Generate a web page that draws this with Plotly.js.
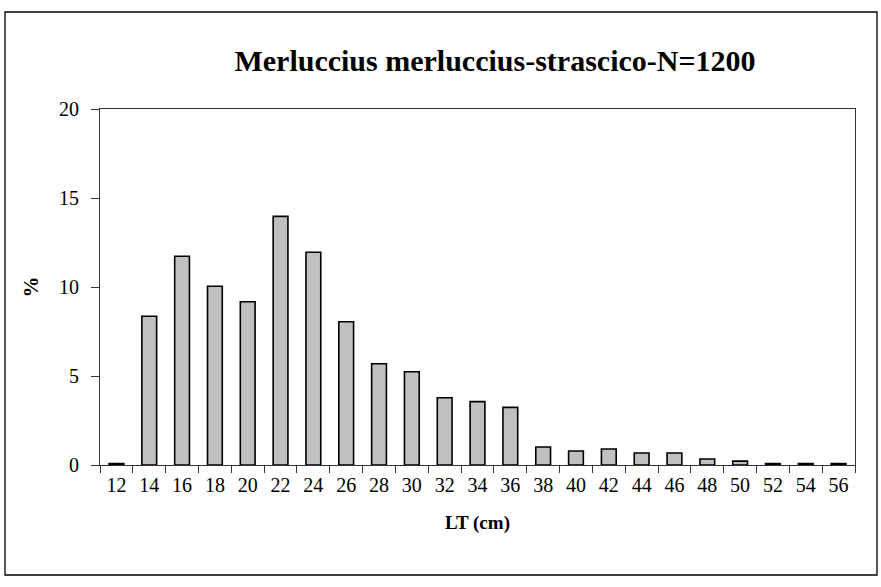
<!DOCTYPE html>
<html>
<head>
<meta charset="utf-8">
<script src="https://cdn.plot.ly/plotly-3.0.1.min.js"></script>
<style>
  html, body { margin: 0; padding: 0; background: #ffffff; }
  #chart { width: 881px; height: 587px; }
</style>
</head>
<body>
<div id="chart"></div>
<script>
const lengthClasses = ["12","14","16","18","20","22","24","26","28","30","32","34","36","38","40","42","44","46","48","50","52","54","56"];
const percentages = [0.08, 8.36, 11.73, 10.04, 9.17, 13.97, 11.95, 8.05, 5.69, 5.24, 3.78, 3.56, 3.24, 1.01, 0.79, 0.90, 0.67, 0.67, 0.34, 0.22, 0.08, 0.08, 0.08];
const yTicks = [0, 5, 10, 15, 20];
const chartTitle = "Merluccius merluccius-strascico-N=1200";
const xTitle = "LT (cm)";
const yTitle = "%";

const serif = "Liberation Serif, Times New Roman, serif";

const trace = {
  type: "bar",
  x: lengthClasses,
  y: percentages,
  marker: { color: "#c0c0c0", line: { color: "#000000", width: 1.6 } },
  hoverinfo: "x+y"
};

const L = 100, R = 26, T = 109, B = 122;
const W = 881, H = 587;
const pw = W - L - R, ph = H - T - B;
function px2x(px) { return (px - L) / pw; }
function py2y(py) { return (H - B - py) / ph; }

const layout = {
  width: W, height: H,
  margin: { l: L, r: R, t: T, b: B, pad: 0 },
  paper_bgcolor: "#ffffff",
  plot_bgcolor: "#ffffff",
  showlegend: false,
  bargap: 0.55,
  font: { family: serif, color: "#000000", size: 20 },
  title: {
    text: chartTitle,
    font: { family: serif, size: 30, weight: "bold", color: "#000000" },
    xref: "paper", x: px2x(495), xanchor: "center",
    yref: "container", y: 1 - 60 / H, yanchor: "middle"
  },
  xaxis: {
    type: "category",
    tickson: "boundaries",
    ticks: "outside", ticklen: 7, tickwidth: 1, tickcolor: "#333333",
    showline: true, linecolor: "#333333", linewidth: 1, mirror: true,
    showgrid: false, zeroline: false,
    tickfont: { family: serif, size: 20, color: "#000000" },
    ticklabelstandoff: 2,
    title: { text: xTitle, font: { family: serif, size: 19, weight: "bold", color: "#000000" }, standoff: 20 },
    fixedrange: true
  },
  yaxis: {
    range: [0, 20],
    tickvals: yTicks,
    ticktext: yTicks.map(String),
    ticks: "outside", ticklen: 8, tickwidth: 1, tickcolor: "#333333",
    showline: true, linecolor: "#333333", linewidth: 1, mirror: true,
    showgrid: false, zeroline: false,
    tickfont: { family: serif, size: 20, color: "#000000" },
    ticklabelstandoff: 8,
    title: { text: yTitle, font: { family: serif, size: 21, weight: "bold", color: "#000000" }, standoff: 14 },
    fixedrange: true
  },
  shapes: [{
    type: "rect", xref: "paper", yref: "paper",
    x0: px2x(5), x1: px2x(877), y0: py2y(575), y1: py2y(12),
    line: { color: "#000000", width: 1.3 }, fillcolor: "rgba(0,0,0,0)", layer: "below"
  }]
};

Plotly.newPlot("chart", [trace], layout, { staticPlot: true, displayModeBar: false });
</script>
</body>
</html>
